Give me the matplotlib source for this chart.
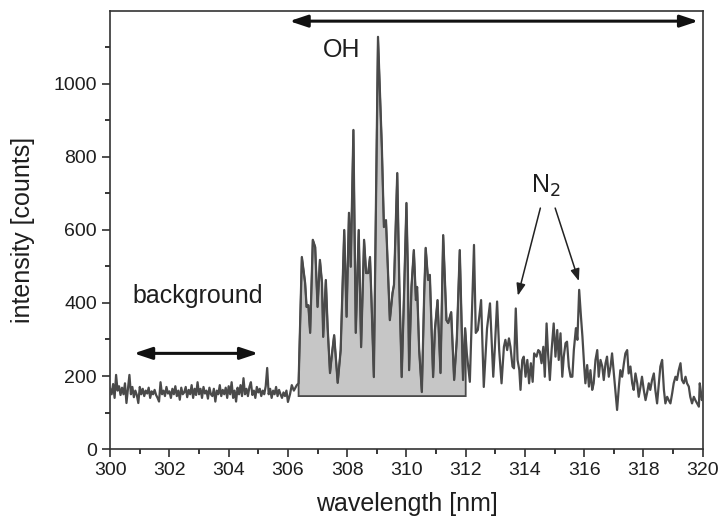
import numpy as np
import matplotlib
matplotlib.use("Agg")
import matplotlib.pyplot as plt

plt.rcParams['font.family'] = ['Liberation Sans', 'DejaVu Sans']

# background part of the spectrum (uniform 0.05 nm grid, 300.00 .. 305.95 nm)
bg_start, bg_step = 300.0, 0.05
bg_intensity = [
    165, 150, 178, 140, 203, 160, 172, 148, 168, 150,
    180, 126, 165, 203, 150, 170, 142, 160, 148, 126,
    170, 150, 165, 145, 160, 152, 168, 140, 158, 150,
    162, 148, 140, 130, 183, 150, 160, 145, 170, 152,
    158, 140, 165, 150, 172, 145, 160, 135, 168, 150,
    155, 170, 142, 162, 150, 175, 140, 165, 148, 183,
    150, 165, 140, 170, 152, 160, 138, 168, 150, 145,
    165, 130, 160, 150, 175, 145, 162, 150, 168, 140,
    172, 150, 183, 140, 160, 130, 168, 150, 175, 145,
    194, 150, 165, 145, 170, 183, 148, 160, 140, 170,
    155, 165, 145, 160, 150, 172, 222, 150, 165, 140,
    160, 150, 170, 145, 162, 150, 140, 155, 145, 160,
]

# OH band region (peaks / valleys), 306.00 .. 312.72 nm
oh_wavelength = [
    306.00, 306.07, 306.13, 306.20, 306.30, 306.36, 306.47, 306.58, 306.63, 306.69,
    306.75, 306.84, 306.92, 307.00, 307.08, 307.15, 307.19, 307.28, 307.34, 307.42,
    307.49, 307.56, 307.68, 307.78, 307.90, 307.98, 308.06, 308.12, 308.21, 308.29,
    308.39, 308.47, 308.57, 308.64, 308.71, 308.77, 308.82, 308.90, 309.04, 309.17,
    309.24, 309.31, 309.44, 309.53, 309.58, 309.69, 309.76, 309.84, 309.92, 310.00,
    310.05, 310.09, 310.17, 310.25, 310.32, 310.36, 310.43, 310.52, 310.60, 310.65,
    310.73, 310.79, 310.90, 310.96, 311.05, 311.15, 311.24, 311.35, 311.41, 311.51,
    311.61, 311.70, 311.80, 311.91, 311.98, 312.04, 312.14, 312.28, 312.34, 312.41,
    312.52, 312.61, 312.72,
]
oh_intensity = [
    129, 150, 175, 160, 175, 180, 526, 455, 389, 394,
    318, 573, 553, 389, 518, 455, 307, 463, 334, 208,
    263, 312, 181, 271, 600, 362, 647, 499, 874, 318,
    600, 279, 573, 482, 482, 526, 408, 197, 1129, 827,
    608, 627, 353, 427, 450, 756, 450, 197, 427, 674,
    480, 216, 444, 545, 408, 444, 271, 156, 427, 551,
    463, 477, 197, 326, 408, 208, 586, 353, 345, 375,
    189, 300, 545, 189, 331, 260, 184, 559, 318, 326,
    408, 170, 330,
]

# N2 region and tail, 312.82 .. 320.00 nm
n2_wavelength = [
    312.82, 312.93, 312.98, 313.06, 313.13, 313.21, 313.29, 313.34, 313.40, 313.46,
    313.51, 313.58, 313.63, 313.69, 313.75, 313.81, 313.85, 313.91, 313.96, 314.02,
    314.08, 314.14, 314.20, 314.26, 314.31, 314.39, 314.45, 314.50, 314.56, 314.62,
    314.67, 314.73, 314.78, 314.84, 314.90, 314.97, 315.03, 315.09, 315.14, 315.20,
    315.26, 315.31, 315.37, 315.42, 315.48, 315.54, 315.60, 315.65, 315.72, 315.77,
    315.83, 315.89, 315.94, 316.00, 316.04, 316.10, 316.16, 316.21, 316.27, 316.32,
    316.38, 316.44, 316.49, 316.55, 316.61, 316.66, 316.72, 316.77, 316.83, 316.89,
    316.94, 317.00, 317.06, 317.11, 317.17, 317.22, 317.28, 317.34, 317.39, 317.45,
    317.50, 317.56, 317.62, 317.67, 317.73, 317.79, 317.84, 317.90, 317.95, 318.01,
    318.07, 318.12, 318.18, 318.23, 318.29, 318.35, 318.40, 318.46, 318.52, 318.57,
    318.63, 318.69, 318.74, 318.80, 318.85, 318.91, 318.97, 319.02, 319.08, 319.13,
    319.19, 319.25, 319.30, 319.36, 319.42, 319.47, 319.53, 319.58, 319.64, 319.70,
    319.75, 319.81, 319.87, 319.90, 319.93, 319.97, 320.00,
]
n2_intensity = [
    399, 198, 271, 404, 271, 180, 280, 299, 271, 303,
    280, 226, 221, 385, 244, 216, 162, 244, 253, 198,
    244, 180, 235, 184, 262, 253, 271, 267, 235, 280,
    198, 344, 262, 189, 271, 344, 253, 326, 244, 317,
    198, 253, 290, 294, 226, 198, 198, 271, 331, 299,
    436, 363, 308, 226, 180, 230, 171, 216, 162, 180,
    244, 271, 198, 244, 226, 189, 235, 253, 198, 226,
    262, 207, 153, 107, 171, 216, 198, 235, 262, 271,
    207, 226, 180, 162, 207, 180, 143, 171, 198, 162,
    134, 153, 180, 162, 189, 207, 162, 125, 180, 226,
    244, 162, 125, 143, 134, 125, 153, 180, 198, 189,
    216, 235, 189, 180, 198, 180, 171, 143, 125, 143,
    134, 125, 116, 180, 162, 134, 143,
]

# shaded OH band
fill_range = (306.36, 312.0)
fill_base = 145

bg_wavelength = bg_start + bg_step * np.arange(len(bg_intensity))
wl = np.concatenate([bg_wavelength, np.array(oh_wavelength), np.array(n2_wavelength)])
inten = np.concatenate([np.array(bg_intensity, float), np.array(oh_intensity, float),
                        np.array(n2_intensity, float)])

fig = plt.figure(figsize=(7.2, 5.2), dpi=100)
ax = fig.add_axes([0.153, 0.1365, 0.823, 0.8425])

line_col = '#4a4a4a'
text_col = '#1e1e1e'
m = (wl > fill_range[0]) & (wl < fill_range[1])
y0 = np.interp(fill_range[0], wl, inten)
y1 = np.interp(fill_range[1], wl, inten)
xs = np.concatenate([[fill_range[0], fill_range[0]], wl[m], [fill_range[1], fill_range[1]]])
ys = np.concatenate([[fill_base, y0], inten[m], [y1, fill_base]])
ax.fill(xs, ys, facecolor='#c6c6c6', edgecolor=line_col, linewidth=1.3, zorder=2)
ax.plot(wl, inten, color=line_col, linewidth=1.6, zorder=3)

ax.set_xlim(300, 320)
ax.set_ylim(0, 1200)
ax.set_xticks(np.arange(300, 321, 2))
ax.set_xticks(np.arange(301, 320, 2), minor=True)
ax.set_yticks(np.arange(0, 1001, 200))
ax.set_yticks(np.arange(100, 1200, 200), minor=True)
ax.tick_params(which='major', direction='out', length=6, width=1.1, labelsize=14, colors=text_col)
ax.tick_params(which='minor', direction='out', length=3.5, width=1.1)
for s in ax.spines.values():
    s.set_linewidth(1.2)
    s.set_color('#333333')

ax.set_xlabel('wavelength [nm]', fontsize=18, color=text_col, labelpad=9)
ax.set_ylabel('intensity [counts]', fontsize=18, color=text_col, labelpad=13)

arrow_kw = dict(arrowstyle='<|-|>,head_length=0.9,head_width=0.3', color='#111111', lw=2.2,
                mutation_scale=12, shrinkA=0, shrinkB=0)
ax.annotate('', xy=(306.05, 1172), xytext=(319.85, 1172), arrowprops=arrow_kw)
ax.text(307.8, 1092, 'OH', fontsize=18, ha='center', va='center', color=text_col)

ax.annotate('', xy=(300.8, 262), xytext=(305.0, 262), arrowprops=arrow_kw)
ax.text(302.95, 420, 'background', fontsize=18, ha='center', va='center', color=text_col)

ax.text(314.7, 720, 'N$_2$', fontsize=18, ha='center', va='center', color=text_col)
n2_kw = dict(arrowstyle='-|>,head_length=0.8,head_width=0.3', color='#222222', lw=1.1,
             mutation_scale=9, shrinkA=0, shrinkB=0)
ax.annotate('', xy=(313.76, 420), xytext=(314.52, 660), arrowprops=n2_kw)
ax.annotate('', xy=(315.82, 460), xytext=(315.02, 660), arrowprops=n2_kw)

fig.savefig('out.png', dpi=100)
